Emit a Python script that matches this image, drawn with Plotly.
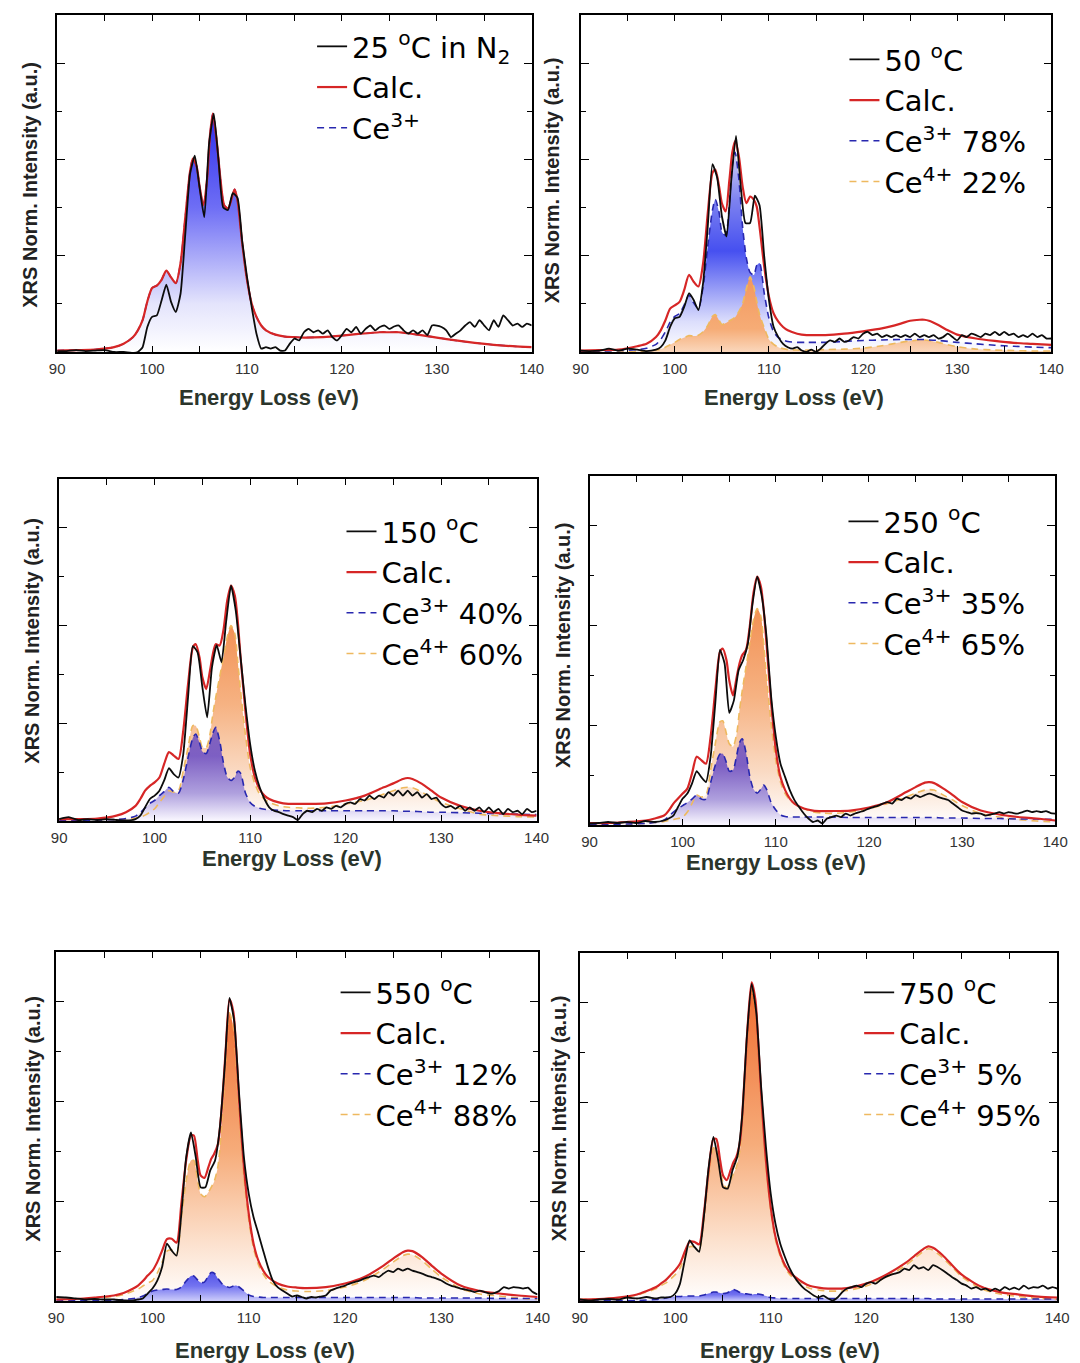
import plotly.graph_objects as go

W, H = 1080, 1363
OFF = 8                      # browser body margin around the plot div
FIG_W, FIG_H = W - OFF, H - OFF

# ---------------- energy grids (eV) ----------------
E_FIT = [90, 92, 94, 96, 97, 98, 98.5, 99, 99.5, 100, 100.5, 101, 101.5, 102, 102.5, 103, 103.5, 104,
         104.3, 104.7, 105, 105.4, 105.8, 106.1, 106.4, 106.8, 107.2, 107.6, 108,
         108.4, 108.7, 109, 109.5, 110, 110.5, 111, 111.5, 112,
         113, 114, 115, 116, 118, 120, 122, 124, 125, 126, 126.5, 127, 128, 129, 130, 132, 134, 136, 138, 140]

E_EXP = [90, 91, 92, 93, 94, 95, 96, 97, 98,
         98.5, 99, 99.5, 100, 100.5, 101, 101.5, 102, 102.5, 103, 103.5, 104, 104.5, 105, 105.5, 106,
         106.5, 107, 107.5, 108, 108.5, 109, 109.5, 110, 110.5, 111, 111.5, 112,
         112.5, 113, 113.5, 114, 114.5, 115, 115.5, 116, 116.5, 117, 117.5, 118, 118.5, 119, 119.5, 120,
         120.5, 121, 121.5, 122, 122.5, 123, 123.5, 124, 124.5, 125,
         125.5, 126, 126.5, 127, 127.5, 128, 128.5, 129, 129.5, 130,
         130.5, 131, 131.5, 132, 132.5, 133, 133.5, 134, 134.5, 135,
         135.5, 136, 136.5, 137, 137.5, 138, 138.5, 139, 139.5, 140]

# ---------------- 25 C in N2 ----------------
EXP_25 = ([0.02, 0.02, 0.04, 0.02, 0.03, 0.04, 0.00, 0.00, -0.02] +
          [0.00, 0.10, 0.52, 0.73, 0.76, 1.07, 1.40, 1.04, 0.83, 1.21, 2.45, 3.70, 4.08, 3.42, 2.80, 4.32,
           4.95, 3.98, 3.00, 2.95, 3.30, 3.20, 2.30, 1.56, 0.93, 0.38, 0.07, 0.10] +
          [0.07, 0.10, 0.03, 0.03, 0.17, 0.28, 0.24, 0.41, 0.48, 0.41, 0.45, 0.38, 0.45, 0.31, 0.24, 0.35] +
          [0.48, 0.41, 0.52, 0.38, 0.48, 0.55, 0.45, 0.52, 0.55, 0.48] +
          [0.53, 0.55, 0.45, 0.38, 0.45, 0.38, 0.45, 0.35, 0.55, 0.55] +
          [0.52, 0.45, 0.31, 0.38, 0.45, 0.55, 0.62, 0.52, 0.66, 0.55] +
          [0.45, 0.66, 0.52, 0.76, 0.66, 0.55, 0.59, 0.52, 0.59, 0.55])
CALC_25 = ([0.03, 0.04, 0.05, 0.10, 0.17, 0.31, 0.45, 0.66, 1.05, 1.33, 1.38, 1.50, 1.69, 1.55, 1.43, 1.85, 2.80, 3.75] +
           [4.02, 3.85, 3.45, 3.05, 3.60, 4.50, 4.95, 4.40, 3.60, 3.05, 2.98] +
           [3.20, 3.38, 3.15, 2.25, 1.50, 1.00, 0.73, 0.55, 0.45] +
           [0.36, 0.32, 0.31, 0.30, 0.31, 0.34, 0.38, 0.41, 0.41, 0.41, 0.40, 0.39, 0.36, 0.33, 0.30, 0.24, 0.19, 0.15, 0.12, 0.10])
CE3_25 = ([0.03, 0.04, 0.05, 0.10, 0.17, 0.31, 0.45, 0.66, 1.05, 1.33, 1.38, 1.50, 1.69, 1.55, 1.43, 1.85, 2.80, 3.75] +
          [4.02, 3.85, 3.45, 3.05, 3.60, 4.50, 4.95, 4.40, 3.60, 3.05, 2.98] +
          [3.20, 3.38, 3.15, 2.25, 1.50, 1.00, 0.73, 0.55, 0.45] +
          [0.36, 0.32, 0.31, 0.30, 0.31, 0.34, 0.38, 0.41, 0.41, 0.41, 0.40, 0.39, 0.36, 0.33, 0.30, 0.24, 0.19, 0.15, 0.12, 0.10])

# ---------------- 50 C ----------------
EXP_50 = ([0.03, 0.02, 0.03, 0.07, 0.03, 0.07, 0.05, 0.02, 0.05] +
          [0.10, 0.24, 0.52, 0.70, 0.73, 0.94, 1.22, 1.08, 0.87, 1.43, 2.61, 3.90, 3.62, 2.82, 2.40, 3.58,
           4.49, 3.44, 2.68, 2.68, 3.25, 3.05, 1.98, 1.08, 0.52, 0.31, 0.17, 0.10] +
          [0.07, 0.10, 0.03, 0.00, 0.05, 0.00, 0.07, 0.17, 0.24, 0.21, 0.28, 0.21, 0.24, 0.31, 0.28, 0.38] +
          [0.42, 0.35, 0.38, 0.31, 0.35, 0.31, 0.35, 0.31, 0.35, 0.31] +
          [0.38, 0.31, 0.35, 0.31, 0.35, 0.28, 0.31, 0.38, 0.31, 0.24] +
          [0.35, 0.31, 0.38, 0.35, 0.31, 0.38, 0.35, 0.42, 0.35, 0.42] +
          [0.35, 0.38, 0.31, 0.35, 0.31, 0.38, 0.31, 0.35, 0.28, 0.28])
CALC_50 = ([0.03, 0.04, 0.05, 0.12, 0.17, 0.31, 0.45, 0.66, 0.90, 0.97, 1.04, 1.29, 1.60, 1.46, 1.36, 1.84, 2.89, 3.72] +
           [3.79, 3.44, 3.09, 2.92, 3.58, 4.14, 4.38, 4.07, 3.44, 3.09, 3.23] +
           [3.16, 3.02, 2.60, 1.77, 1.15, 0.80, 0.63, 0.52, 0.45] +
           [0.38, 0.35, 0.35, 0.35, 0.38, 0.43, 0.49, 0.59, 0.65, 0.67, 0.67, 0.65, 0.56, 0.45, 0.36, 0.28, 0.23, 0.19, 0.17, 0.15])
CE3_50 = ([0.02, 0.02, 0.03, 0.05, 0.08, 0.16, 0.26, 0.42, 0.62, 0.74, 0.80, 0.98, 1.18, 1.02, 0.90, 1.35, 2.20, 2.95] +
          [3.17, 2.90, 2.50, 2.42, 3.10, 3.85, 4.15, 3.60, 2.60, 1.95, 1.65] +
          [1.60, 1.80, 1.85, 1.22, 0.70, 0.42, 0.30, 0.25, 0.22] +
          [0.20, 0.20, 0.20, 0.20, 0.22, 0.24, 0.25, 0.26, 0.26, 0.26, 0.26, 0.25, 0.24, 0.22, 0.20, 0.17, 0.14, 0.12, 0.10, 0.09])
CE4_50 = ([0.00, 0.00, 0.00, 0.01, 0.02, 0.04, 0.06, 0.10, 0.15, 0.20, 0.26, 0.30, 0.34, 0.33, 0.35, 0.42, 0.55, 0.74] +
          [0.78, 0.66, 0.57, 0.60, 0.65, 0.68, 0.72, 0.84, 1.00, 1.32, 1.56] +
          [1.35, 1.05, 0.78, 0.50, 0.26, 0.16, 0.10, 0.07, 0.05] +
          [0.04, 0.04, 0.04, 0.05, 0.06, 0.08, 0.13, 0.20, 0.23, 0.25, 0.25, 0.24, 0.20, 0.15, 0.11, 0.06, 0.04, 0.03, 0.02, 0.02])

# ---------------- 150 C ----------------
EXP_150 = ([0.04, 0.08, 0.02, 0.04, 0.02, 0.04, 0.02, 0.01, 0.04] +
           [0.11, 0.28, 0.45, 0.52, 0.62, 0.83, 1.08, 0.96, 0.89, 1.37, 2.53, 3.58, 3.45, 2.74, 2.12, 3.14,
            3.60, 3.25, 4.10, 4.82, 4.30, 3.35, 2.39, 1.58, 1.03, 0.69, 0.45, 0.28] +
           [0.21, 0.18, 0.14, 0.11, 0.08, 0.02, 0.14, 0.21, 0.18, 0.25, 0.21, 0.28, 0.25, 0.31, 0.28, 0.35] +
           [0.38, 0.35, 0.45, 0.42, 0.52, 0.45, 0.52, 0.48, 0.59, 0.52] +
           [0.62, 0.52, 0.62, 0.52, 0.59, 0.48, 0.55, 0.45, 0.48, 0.35] +
           [0.28, 0.31, 0.25, 0.31, 0.21, 0.28, 0.21, 0.28, 0.18, 0.28] +
           [0.18, 0.25, 0.14, 0.25, 0.18, 0.21, 0.14, 0.25, 0.18, 0.21])
CALC_150 = ([0.04, 0.04, 0.05, 0.11, 0.18, 0.31, 0.45, 0.62, 0.72, 0.79, 0.89, 1.17, 1.41, 1.34, 1.27, 1.85, 2.80, 3.55] +
            [3.62, 3.35, 2.94, 2.70, 3.08, 3.42, 3.62, 3.59, 3.90, 4.51, 4.82] +
            [4.61, 4.10, 3.35, 2.26, 1.37, 0.89, 0.65, 0.52, 0.45] +
            [0.38, 0.35, 0.35, 0.35, 0.36, 0.42, 0.52, 0.69, 0.77, 0.86, 0.88, 0.86, 0.76, 0.62, 0.48, 0.31, 0.21, 0.16, 0.13, 0.11])
CE3_150 = ([0.01, 0.01, 0.02, 0.03, 0.05, 0.10, 0.17, 0.27, 0.36, 0.42, 0.52, 0.60, 0.69, 0.60, 0.57, 0.85, 1.30, 1.70] +
           [1.78, 1.60, 1.42, 1.38, 1.60, 1.80, 1.92, 1.65, 1.20, 0.90, 0.83] +
           [0.90, 1.02, 0.98, 0.58, 0.38, 0.30, 0.26, 0.24, 0.23] +
           [0.22, 0.21, 0.21, 0.21, 0.21, 0.21, 0.21, 0.21, 0.21, 0.20, 0.20, 0.20, 0.19, 0.18, 0.18, 0.17, 0.16, 0.15, 0.14, 0.13])
CE4_150 = ([0.01, 0.01, 0.02, 0.03, 0.04, 0.06, 0.08, 0.12, 0.18, 0.25, 0.38, 0.50, 0.62, 0.59, 0.62, 1.03, 1.51, 1.95] +
           [1.95, 1.71, 1.51, 1.50, 1.78, 2.19, 2.53, 2.94, 3.35, 3.76, 4.00] +
           [3.83, 3.28, 2.67, 1.78, 1.10, 0.76, 0.55, 0.45, 0.38] +
           [0.31, 0.28, 0.27, 0.26, 0.28, 0.35, 0.42, 0.55, 0.62, 0.68, 0.69, 0.68, 0.59, 0.48, 0.38, 0.25, 0.14, 0.11, 0.09, 0.08])

# ---------------- 250 C ----------------
EXP_250 = ([0.03, 0.04, 0.06, 0.04, 0.06, 0.04, 0.08, 0.06, 0.09] +
           [0.13, 0.19, 0.36, 0.53, 0.63, 0.83, 1.08, 0.96, 0.86, 1.37, 2.44, 3.51, 3.24, 2.25, 2.50, 3.10,
            3.31, 3.64, 4.44, 4.98, 4.58, 3.78, 2.57, 1.77, 1.23, 0.96, 0.70, 0.50] +
           [0.36, 0.23, 0.13, 0.06, 0.09, 0.03, 0.13, 0.16, 0.19, 0.16, 0.23, 0.19, 0.23, 0.26, 0.29, 0.33] +
           [0.36, 0.39, 0.43, 0.46, 0.43, 0.53, 0.50, 0.56, 0.53, 0.60] +
           [0.56, 0.60, 0.63, 0.60, 0.56, 0.53, 0.50, 0.43, 0.36, 0.29] +
           [0.26, 0.23, 0.24, 0.23, 0.19, 0.21, 0.23, 0.26, 0.23, 0.26] +
           [0.24, 0.23, 0.26, 0.29, 0.26, 0.28, 0.26, 0.28, 0.24, 0.23])
CALC_250 = ([0.04, 0.04, 0.06, 0.09, 0.13, 0.19, 0.29, 0.43, 0.53, 0.63, 0.73, 1.03, 1.37, 1.30, 1.23, 1.77, 2.70, 3.47] +
            [3.54, 3.31, 2.90, 2.60, 2.97, 3.24, 3.41, 3.51, 3.98, 4.65, 4.98] +
            [4.78, 4.31, 3.64, 2.44, 1.50, 0.96, 0.70, 0.53, 0.43] +
            [0.33, 0.29, 0.28, 0.28, 0.29, 0.35, 0.46, 0.66, 0.76, 0.85, 0.86, 0.84, 0.73, 0.60, 0.46, 0.29, 0.21, 0.16, 0.13, 0.09])
CE3_250 = ([0.01, 0.01, 0.02, 0.03, 0.05, 0.10, 0.17, 0.26, 0.33, 0.39, 0.45, 0.52, 0.60, 0.52, 0.52, 0.85, 1.20, 1.42] +
           [1.43, 1.25, 1.08, 1.10, 1.40, 1.65, 1.73, 1.45, 0.98, 0.72, 0.64] +
           [0.72, 0.80, 0.72, 0.45, 0.30, 0.20, 0.17, 0.16, 0.16] +
           [0.16, 0.16, 0.16, 0.16, 0.15, 0.15, 0.15, 0.15, 0.15, 0.15, 0.15, 0.15, 0.14, 0.14, 0.14, 0.13, 0.13, 0.12, 0.12, 0.11])
CE4_250 = ([0.01, 0.01, 0.02, 0.03, 0.05, 0.07, 0.09, 0.11, 0.13, 0.16, 0.26, 0.43, 0.60, 0.56, 0.60, 1.10, 1.63, 2.07] +
           [2.09, 1.83, 1.63, 1.57, 1.83, 2.30, 2.70, 3.17, 3.64, 4.11, 4.34] +
           [4.18, 3.64, 2.97, 2.03, 1.30, 0.86, 0.63, 0.50, 0.43] +
           [0.33, 0.26, 0.24, 0.23, 0.26, 0.33, 0.43, 0.56, 0.64, 0.70, 0.71, 0.70, 0.60, 0.50, 0.39, 0.23, 0.16, 0.11, 0.08, 0.06])

# ---------------- 550 C ----------------
EXP_550 = ([0.08, 0.07, 0.05, 0.03, 0.04, 0.03, 0.03, 0.01, 0.01] +
           [0.03, 0.05, 0.15, 0.25, 0.41, 0.68, 1.15, 1.01, 0.91, 1.75, 2.88, 3.38, 2.88, 2.28, 2.28, 2.62,
            2.82, 3.48, 4.69, 6.08, 5.60, 4.15, 2.88, 2.15, 1.68, 1.35, 1.01, 0.68] +
           [0.41, 0.28, 0.21, 0.15, 0.09, 0.11, 0.08, 0.05, 0.08, 0.07, 0.09, 0.11, 0.21, 0.25, 0.28, 0.31] +
           [0.35, 0.38, 0.41, 0.45, 0.48, 0.51, 0.48, 0.55, 0.61, 0.58] +
           [0.65, 0.61, 0.65, 0.61, 0.58, 0.55, 0.51, 0.48, 0.45, 0.41] +
           [0.35, 0.31, 0.28, 0.25, 0.23, 0.21, 0.18, 0.21, 0.18, 0.15] +
           [0.16, 0.20, 0.28, 0.25, 0.28, 0.27, 0.25, 0.27, 0.18, 0.13])
CALC_550 = ([0.03, 0.04, 0.07, 0.11, 0.16, 0.25, 0.31, 0.40, 0.51, 0.61, 0.78, 1.01, 1.24, 1.25, 1.17, 1.95, 2.82, 3.32] +
            [3.32, 2.82, 2.52, 2.47, 2.68, 2.85, 2.95, 3.15, 3.89, 5.02, 6.05] +
            [5.80, 5.02, 4.02, 2.68, 1.75, 1.15, 0.81, 0.61, 0.48] +
            [0.35, 0.29, 0.27, 0.26, 0.28, 0.35, 0.48, 0.71, 0.85, 0.98, 1.01, 1.00, 0.88, 0.71, 0.55, 0.31, 0.20, 0.15, 0.11, 0.08])
CE3_550 = ([0.00, 0.01, 0.01, 0.02, 0.03, 0.05, 0.07, 0.10, 0.15, 0.20, 0.22, 0.23, 0.24, 0.23, 0.23, 0.28, 0.40, 0.50] +
           [0.50, 0.42, 0.37, 0.38, 0.50, 0.57, 0.56, 0.45, 0.35, 0.30, 0.27] +
           [0.30, 0.31, 0.28, 0.20, 0.12, 0.09, 0.08, 0.07, 0.07] +
           [0.07, 0.07, 0.07, 0.07, 0.07, 0.07, 0.07, 0.07, 0.07, 0.07, 0.07, 0.07, 0.06, 0.06, 0.06, 0.06, 0.06, 0.05, 0.05, 0.05])
CE4_550 = ([0.03, 0.03, 0.06, 0.09, 0.13, 0.20, 0.24, 0.30, 0.36, 0.41, 0.56, 0.78, 1.00, 1.02, 0.95, 1.67, 2.42, 2.82] +
           [2.82, 2.40, 2.15, 2.09, 2.18, 2.28, 2.39, 2.70, 3.54, 4.72, 5.78] +
           [5.50, 4.71, 3.74, 2.48, 1.63, 1.06, 0.73, 0.54, 0.41] +
           [0.28, 0.22, 0.20, 0.19, 0.21, 0.28, 0.41, 0.64, 0.78, 0.91, 0.94, 0.93, 0.81, 0.64, 0.48, 0.25, 0.14, 0.10, 0.06, 0.03])

# ---------------- 750 C ----------------
EXP_750 = ([0.03, 0.01, 0.03, 0.04, 0.03, 0.07, 0.05, 0.08, 0.05] +
           [0.07, 0.07, 0.08, 0.15, 0.35, 0.82, 1.22, 1.09, 0.99, 1.69, 2.69, 3.30, 2.83, 2.29, 2.26, 2.63,
            2.90, 3.70, 5.31, 6.38, 5.78, 4.30, 3.10, 2.16, 1.55, 1.15, 0.88, 0.65] +
           [0.48, 0.35, 0.25, 0.18, 0.11, 0.07, 0.11, 0.05, 0.01, 0.07, 0.18, 0.25, 0.28, 0.31, 0.28, 0.35] +
           [0.38, 0.35, 0.42, 0.48, 0.52, 0.55, 0.58, 0.65, 0.62, 0.72] +
           [0.65, 0.68, 0.62, 0.72, 0.68, 0.62, 0.55, 0.48, 0.42, 0.35] +
           [0.31, 0.25, 0.28, 0.23, 0.25, 0.20, 0.25, 0.21, 0.28, 0.23] +
           [0.27, 0.23, 0.31, 0.25, 0.28, 0.27, 0.31, 0.25, 0.28, 0.25])
CALC_750 = ([0.03, 0.04, 0.07, 0.13, 0.20, 0.28, 0.35, 0.42, 0.52, 0.62, 0.75, 0.99, 1.19, 1.19, 1.14, 1.76, 2.63, 3.26] +
            [3.26, 2.83, 2.53, 2.43, 2.63, 2.79, 2.90, 3.23, 4.30, 5.58, 6.41] +
            [6.05, 5.17, 4.17, 2.83, 1.89, 1.29, 0.95, 0.72, 0.58] +
            [0.42, 0.31, 0.27, 0.25, 0.26, 0.35, 0.52, 0.75, 0.90, 1.05, 1.10, 1.07, 0.92, 0.72, 0.53, 0.29, 0.18, 0.13, 0.09, 0.07])
CE3_750 = ([0.00, 0.00, 0.01, 0.01, 0.02, 0.03, 0.04, 0.06, 0.08, 0.09, 0.09, 0.10, 0.10, 0.10, 0.10, 0.12, 0.15, 0.18] +
           [0.18, 0.16, 0.15, 0.16, 0.20, 0.23, 0.21, 0.17, 0.15, 0.14, 0.13] +
           [0.14, 0.14, 0.13, 0.10, 0.07, 0.06, 0.05, 0.05, 0.05] +
           [0.05, 0.05, 0.05, 0.05, 0.05, 0.05, 0.05, 0.05, 0.05, 0.05, 0.05, 0.04, 0.04, 0.04, 0.04, 0.04, 0.04, 0.04, 0.04, 0.04])
CE4_750 = ([0.03, 0.04, 0.06, 0.12, 0.18, 0.25, 0.31, 0.36, 0.44, 0.53, 0.66, 0.89, 1.09, 1.09, 1.04, 1.64, 2.48, 3.08] +
           [3.08, 2.67, 2.38, 2.27, 2.43, 2.56, 2.69, 3.06, 4.15, 5.44, 6.28] +
           [5.91, 5.03, 4.04, 2.73, 1.82, 1.23, 0.90, 0.67, 0.53] +
           [0.37, 0.26, 0.22, 0.20, 0.21, 0.30, 0.47, 0.70, 0.85, 1.00, 1.05, 1.02, 0.87, 0.68, 0.49, 0.25, 0.14, 0.09, 0.05, 0.03])

LABELS_25 = ["25 <sup>o</sup>C in N<sub>2</sub>", "Calc.", "Ce<sup>3+</sup>"]
LABELS_50 = ["50 <sup>o</sup>C", "Calc.", "Ce<sup>3+</sup> 78%", "Ce<sup>4+</sup> 22%"]
LABELS_150 = ["150 <sup>o</sup>C", "Calc.", "Ce<sup>3+</sup> 40%", "Ce<sup>4+</sup> 60%"]
LABELS_250 = ["250 <sup>o</sup>C", "Calc.", "Ce<sup>3+</sup> 35%", "Ce<sup>4+</sup> 65%"]
LABELS_550 = ["550 <sup>o</sup>C", "Calc.", "Ce<sup>3+</sup> 12%", "Ce<sup>4+</sup> 88%"]
LABELS_750 = ["750 <sup>o</sup>C", "Calc.", "Ce<sup>3+</sup> 5%", "Ce<sup>4+</sup> 95%"]

for arr in [CALC_25, CE3_25, CALC_50, CE3_50, CE4_50, CALC_150, CE3_150, CE4_150,
            CALC_250, CE3_250, CE4_250, CALC_550, CE3_550, CE4_550, CALC_750, CE3_750, CE4_750]:
    assert len(arr) == len(E_FIT), len(arr)
for arr in [EXP_25, EXP_50, EXP_150, EXP_250, EXP_550, EXP_750]:
    assert len(arr) == len(E_EXP), len(arr)


def fx(px):
    return (px - OFF) / FIG_W


def fy(py):
    return 1 - (py - OFF) / FIG_H


# ---------------- styling / layout (page pixel positions) ----------------
FRAMES = [(50, 534, 15, 352), (584, 1064, 15, 352), (52, 539, 479, 821),
          (593, 1068, 476, 825), (49, 540, 952, 1301), (583, 1070, 953, 1301)]
LEGEND_POS = [(350, 21), (893, 34), (380, 506), (892, 496), (374, 967), (908, 967)]
XTITLE_POS = [(266, 397), (802, 397), (290, 858), (783, 862), (262, 1350), (797, 1350)]
YTITLE_POS = [(22, 185), (555, 180), (24, 641), (566, 645), (25, 1119), (562, 1118)]

BLUE_P1 = [[0, 'rgb(255,255,255)'], [0.2, 'rgb(228,228,252)'], [0.6, 'rgb(110,110,245)'], [1, 'rgb(45,45,235)']]
BLUE_P2 = [[0, 'rgb(255,255,255)'], [0.15, 'rgb(220,222,252)'], [0.5, 'rgb(70,80,240)'],
           [0.75, 'rgb(125,130,240)'], [1, 'rgb(215,215,245)']]
ORANGE_P2 = [[0, 'rgb(250,215,188)'], [0.3, 'rgb(246,172,118)'], [1, 'rgb(242,150,92)']]
ORANGE_MID = [[0, 'rgb(255,255,255)'], [0.25, 'rgb(250,218,195)'], [0.6, 'rgb(246,178,130)'], [1, 'rgb(242,145,85)']]
PURPLE_MID = [[0, 'rgb(250,248,255)'], [0.3, 'rgb(175,160,222)'], [0.7, 'rgb(125,95,195)'], [1, 'rgb(130,98,188)']]
ORANGE_HI = [[0, 'rgb(255,255,255)'], [0.2, 'rgb(252,224,204)'], [0.5, 'rgb(246,172,122)'], [1, 'rgb(240,108,48)']]
BLUE_LOW = [[0, 'rgb(205,205,250)'], [0.5, 'rgb(115,115,240)'], [1, 'rgb(80,80,230)']]

PANELS = [
    dict(exp=EXP_25, calc=CALC_25, ce3=CE3_25, ce4=None, labels=LABELS_25,
         fills=[(CE3_25, BLUE_P1, 5.0)]),
    dict(exp=EXP_50, calc=CALC_50, ce3=CE3_50, ce4=CE4_50, labels=LABELS_50,
         fills=[(CE3_50, BLUE_P2, 4.2), (CE4_50, ORANGE_P2, 1.6)]),
    dict(exp=EXP_150, calc=CALC_150, ce3=CE3_150, ce4=CE4_150, labels=LABELS_150,
         fills=[(CE4_150, ORANGE_MID, 4.0), (CE3_150, PURPLE_MID, 1.9)]),
    dict(exp=EXP_250, calc=CALC_250, ce3=CE3_250, ce4=CE4_250, labels=LABELS_250,
         fills=[(CE4_250, ORANGE_MID, 4.3), (CE3_250, PURPLE_MID, 1.7)]),
    dict(exp=EXP_550, calc=CALC_550, ce3=CE3_550, ce4=CE4_550, labels=LABELS_550,
         fills=[(CE4_550, ORANGE_HI, 6.0), (CE3_550, BLUE_LOW, 0.6)]),
    dict(exp=EXP_750, calc=CALC_750, ce3=CE3_750, ce4=CE4_750, labels=LABELS_750,
         fills=[(CE4_750, ORANGE_HI, 6.3), (CE3_750, BLUE_LOW, 0.25)]),
]

C_EXP = 'rgb(12,12,12)'
C_CALC = 'rgb(214,38,38)'
C_CE3 = 'rgb(40,40,175)'
C_CE4 = 'rgb(238,185,95)'
DASH = '7px,5px'

fig = go.Figure()
layout = dict(width=FIG_W, height=FIG_H, margin=dict(l=0, r=0, t=0, b=0),
              paper_bgcolor='white', plot_bgcolor='rgba(0,0,0,0)', showlegend=True,
              annotations=[])

for i, p in enumerate(PANELS):
    n = '' if i == 0 else str(i + 1)
    xa, ya, lg = 'x' + n, 'y' + n, 'legend' + n
    for yv, cs, stop in p['fills']:
        fig.add_trace(go.Scatter(
            x=E_FIT, y=yv, xaxis=xa, yaxis=ya, mode='lines',
            line=dict(width=0, shape='spline', smoothing=0.7),
            fill='tozeroy',
            fillgradient=dict(type='vertical', colorscale=cs, start=0, stop=stop),
            showlegend=False, hoverinfo='skip'))
    if p['ce4'] is not None:
        fig.add_trace(go.Scatter(
            x=E_FIT, y=p['ce4'], xaxis=xa, yaxis=ya, mode='lines', name=p['labels'][3],
            line=dict(color=C_CE4, width=1.6, dash=DASH, shape='spline', smoothing=0.7),
            legend=lg, legendrank=4))
    fig.add_trace(go.Scatter(
        x=E_FIT, y=p['ce3'], xaxis=xa, yaxis=ya, mode='lines', name=p['labels'][2],
        line=dict(color=C_CE3, width=1.6, dash=DASH, shape='spline', smoothing=0.7),
        legend=lg, legendrank=3))
    fig.add_trace(go.Scatter(
        x=E_FIT, y=p['calc'], xaxis=xa, yaxis=ya, mode='lines', name=p['labels'][1],
        line=dict(color=C_CALC, width=2.2, shape='spline', smoothing=0.7),
        legend=lg, legendrank=2))
    fig.add_trace(go.Scatter(
        x=E_EXP, y=p['exp'], xaxis=xa, yaxis=ya, mode='lines', name=p['labels'][0],
        line=dict(color=C_EXP, width=1.8, shape='spline', smoothing=0.5),
        legend=lg, legendrank=1))

    x0, x1, y0, y1 = FRAMES[i]
    layout['xaxis' + n] = dict(
        domain=[fx(x0), fx(x1)], range=[90, 140], anchor=ya,
        tickvals=[90, 100, 110, 120, 130, 140], ticks='inside', ticklen=6, tickwidth=1.3,
        tickcolor='black',
        minor=dict(dtick=5, tick0=90, ticks='inside', ticklen=6, tickwidth=1.3, tickcolor='black'),
        showline=True, linecolor='black', linewidth=1.6, mirror='ticks',
        showgrid=False, zeroline=False, ticklabelstandoff=2,
        tickfont=dict(family='Liberation Sans, Arial', size=15, color='#333333'))
    layout['yaxis' + n] = dict(
        domain=[fy(y1), fy(y0)], range=[0, 7], anchor=xa,
        tickvals=[2, 4, 6], ticks='inside', ticklen=8, tickwidth=1.3, tickcolor='black',
        minor=dict(dtick=1, tick0=0, ticks='inside', ticklen=5, tickwidth=1.3, tickcolor='black'),
        showticklabels=False, showline=True, linecolor='black', linewidth=1.6, mirror='ticks',
        showgrid=False, zeroline=False)
    tx, ty = LEGEND_POS[i]
    layout[lg] = dict(x=fx(tx - 40), y=fy(ty), xanchor='left', yanchor='top',
                      bgcolor='rgba(0,0,0,0)', borderwidth=0, tracegroupgap=0, itemwidth=30,
                      font=dict(family='DejaVu Sans', size=29, color='black'))
    ax_, ay_ = XTITLE_POS[i]
    layout['annotations'].append(dict(
        text='<b>Energy Loss (eV)</b>', x=fx(ax_), y=fy(ay_), xref='paper', yref='paper',
        xanchor='center', yanchor='middle', showarrow=False,
        font=dict(family='Liberation Sans, Arial', size=22, color='#2b352b')))
    bx, by = YTITLE_POS[i]
    layout['annotations'].append(dict(
        text='<b>XRS Norm. Intensity (a.u.)</b>', x=fx(bx), y=fy(by), xref='paper', yref='paper',
        xanchor='center', yanchor='middle', showarrow=False, textangle=-90,
        font=dict(family='Liberation Sans, Arial', size=20, color='#222222')))

fig.update_layout(**layout)
fig.write_html("out.html")
